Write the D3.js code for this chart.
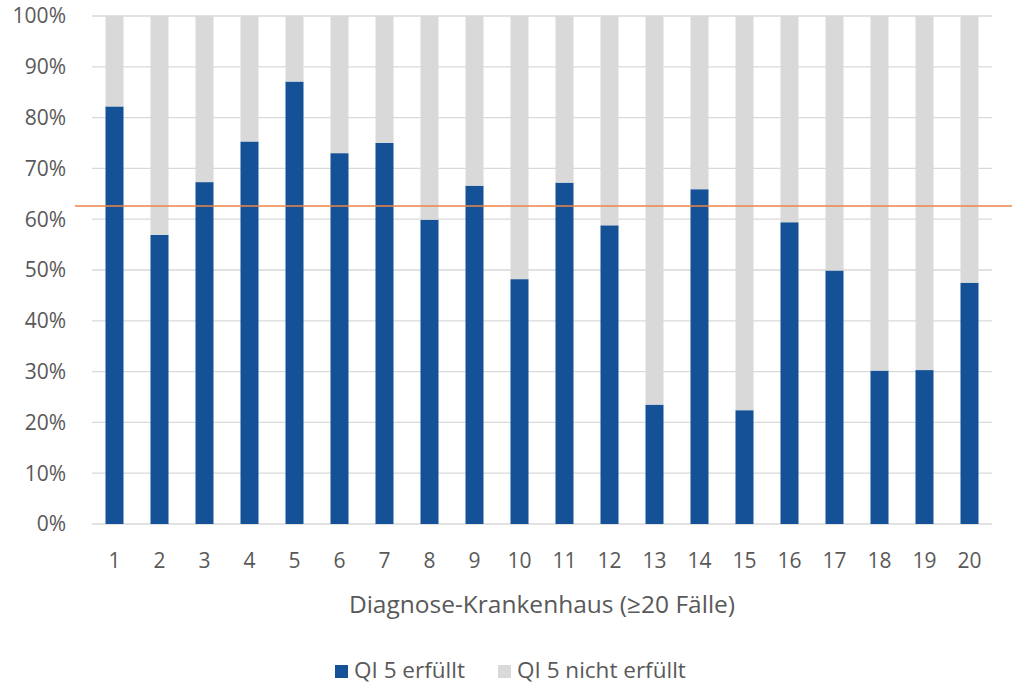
<!DOCTYPE html>
<html>
<head>
<meta charset="utf-8">
<script src="https://cdn.jsdelivr.net/npm/d3@7"></script>
<style>
  body { margin: 0; background: #fff; }
  text { font-family: "Open Sans", "Noto Sans", sans-serif; fill: #595959; }
</style>
</head>
<body>
<svg id="chart" width="1012" height="686"></svg>
<script>
// hospital ids along the x axis
var hospitals = ["1", "2", "3", "4", "5", "6", "7", "8", "9", "10",
  "11", "12", "13", "14", "15", "16", "17", "18", "19", "20"];
// share (%) with QI 5 fulfilled
var erfuellt = [82.2, 56.9, 67.3, 75.3, 87.1, 73.0, 75.0, 59.9, 66.6, 48.2,
  67.2, 58.8, 23.5, 65.9, 22.4, 59.4, 49.9, 30.2, 30.3, 47.5];
var yTicks = [0, 10, 20, 30, 40, 50, 60, 70, 80, 90, 100];
var referenceValue = 62.6; // orange line
var seriesNames = ["QI 5 erfüllt", "QI 5 nicht erfüllt"];
var seriesColors = ["#155196", "#d9d9d9"];

var margin = { top: 16, right: 20, bottom: 162, left: 92 },
  width = 992 - margin.left,
  height = 524 - margin.top;

var svg = d3.select("#chart");
var g = svg.append("g")
  .attr("transform", `translate(${margin.left}, ${margin.top})`);

var x = d3.scaleBand().domain(hospitals).range([0, width])
  .paddingInner(0.6).paddingOuter(0.3);
var y = d3.scaleLinear().domain([0, 100]).range([height, 0]);

// gridlines
g.selectAll(".grid")
  .data(yTicks)
  .enter()
  .append("line")
  .attr("x1", 0)
  .attr("x2", width)
  .attr("y1", (d) => y(d))
  .attr("y2", (d) => y(d))
  .attr("stroke", "#d9d9d9")
  .attr("stroke-width", 1.3);

// stacked bars: fulfilled + remainder
var rows = hospitals.map((h, i) => ({ key: h, a: erfuellt[i], b: 100 - erfuellt[i] }));
var stacked = d3.stack().keys(["a", "b"])(rows);

g.selectAll(".series")
  .data(stacked)
  .enter()
  .append("g")
  .attr("fill", (d, i) => seriesColors[i])
  .selectAll("rect")
  .data((d) => d)
  .enter()
  .append("rect")
  .attr("x", (d) => x(d.data.key))
  .attr("width", x.bandwidth())
  .attr("y", (d) => y(d[1]))
  .attr("height", (d) => y(d[0]) - y(d[1]));

// reference line, runs past the plot to the right edge
g.append("line")
  .attr("x1", -17)
  .attr("x2", 1012 - margin.left)
  .attr("y1", y(referenceValue))
  .attr("y2", y(referenceValue))
  .attr("stroke", "#ee8444")
  .attr("stroke-width", 1.4);

// y axis labels
g.selectAll(".ylab")
  .data(yTicks)
  .enter()
  .append("text")
  .attr("x", -26)
  .attr("y", (d) => y(d))
  .attr("dy", "0.35em")
  .attr("text-anchor", "end")
  .style("font-size", "21px")
  .text((d) => d + "%");

// x axis labels
g.selectAll(".xlab")
  .data(hospitals)
  .enter()
  .append("text")
  .attr("x", (d) => x(d) + x.bandwidth() / 2)
  .attr("y", height + 37)
  .attr("dy", "0.35em")
  .attr("text-anchor", "middle")
  .style("font-size", "21px")
  .text((d) => d);

// axis title
svg.append("text")
  .attr("x", margin.left + width / 2)
  .attr("y", 604)
  .attr("dy", "0.35em")
  .attr("text-anchor", "middle")
  .style("font-size", "24.5px")
  .text("Diagnose-Krankenhaus (≥20 Fälle)");

// legend
var legendX = [335, 498];
var legend = svg.selectAll(".legend")
  .data(seriesNames)
  .enter()
  .append("g")
  .attr("transform", (d, i) => `translate(${legendX[i]}, 670)`);
legend.append("rect")
  .attr("x", 0)
  .attr("y", -5)
  .attr("width", 13)
  .attr("height", 13)
  .attr("fill", (d, i) => seriesColors[i]);
legend.append("text")
  .attr("x", 19)
  .attr("y", 0)
  .attr("dy", "0.35em")
  .style("font-size", "22.5px")
  .text((d) => d);
</script>
</body>
</html>
